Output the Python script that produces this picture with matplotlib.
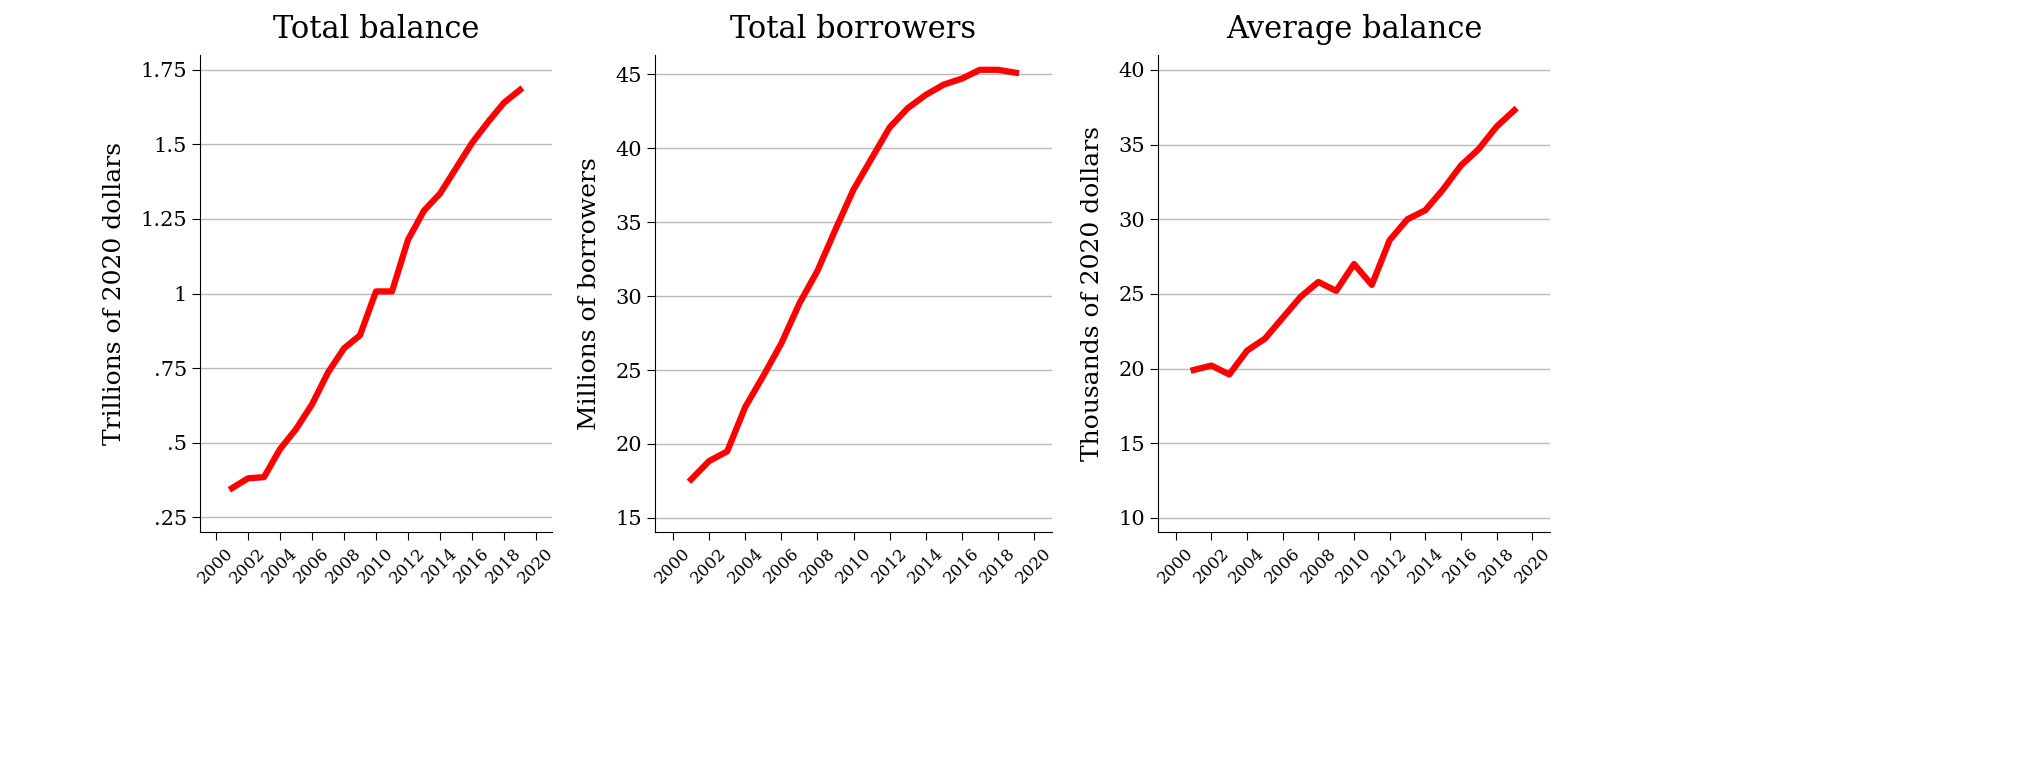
import matplotlib.pyplot as plt

years = list(range(2001, 2020))
total_balance = [0.347, 0.38, 0.384, 0.478, 0.545, 0.628, 0.735, 0.816, 0.86, 1.007,
                 1.007, 1.18, 1.278, 1.335, 1.42, 1.505, 1.575, 1.64, 1.683]
total_borrowers = [17.6, 18.85, 19.5, 22.5, 24.6, 26.8, 29.5, 31.7, 34.5, 37.2,
                   39.3, 41.4, 42.7, 43.6, 44.3, 44.7, 45.3, 45.3, 45.1]
average_balance = [19.9, 20.2, 19.6, 21.2, 22.0, 23.4, 24.8, 25.8, 25.2, 27.0,
                   25.6, 28.6, 30.0, 30.6, 32.0, 33.6, 34.7, 36.2, 37.3]

titles = ["Total balance", "Total borrowers", "Average balance"]
ylabels = ["Trillions of 2020 dollars", "Millions of borrowers", "Thousands of 2020 dollars"]
yticks = [[0.25, 0.5, 0.75, 1, 1.25, 1.5, 1.75], [15, 20, 25, 30, 35, 40, 45],
          [10, 15, 20, 25, 30, 35, 40]]
ytick_labels = [[".25", ".5", ".75", "1", "1.25", "1.5", "1.75"],
                ["15", "20", "25", "30", "35", "40", "45"],
                ["10", "15", "20", "25", "30", "35", "40"]]
ylims = [(0.2, 1.8), (14.05, 46.3), (9.05, 41)]
series = [total_balance, total_borrowers, average_balance]
xticks = list(range(2000, 2021, 2))

plt.rcParams['font.family'] = ['DejaVu Serif']
fig = plt.figure(figsize=(20.34, 7.72), dpi=100)
lefts = [200, 655, 1158]
widths = [352, 397, 392]
for i in range(3):
    ax = fig.add_axes([lefts[i] / 2034, (772 - 532) / 772, widths[i] / 2034, 477 / 772])
    ax.plot(years, series[i], color='red', linewidth=4.5, zorder=3)
    ax.set_xlim(1999, 2021)
    ax.set_ylim(*ylims[i])
    ax.set_yticks(yticks[i])
    ax.set_yticklabels(ytick_labels[i], fontsize=15)
    ax.set_xticks(xticks)
    ax.set_xticklabels([str(x) for x in xticks], rotation=45, fontsize=12)
    ax.grid(axis='y', color='#bbbbbb', linewidth=1)
    ax.set_axisbelow(True)
    for s in ['top', 'right']:
        ax.spines[s].set_visible(False)
    ax.set_title(titles[i], fontsize=22, pad=12)
    ax.set_ylabel(ylabels[i], fontsize=18, labelpad=10)
    ax.tick_params(direction='out', length=6)

fig.savefig('out.png', dpi=100)
